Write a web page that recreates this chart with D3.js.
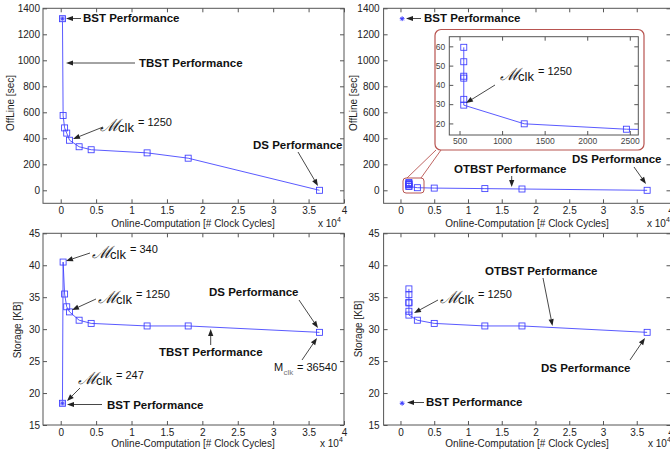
<!DOCTYPE html>
<html><head><meta charset="utf-8">
<script src="https://cdn.jsdelivr.net/npm/d3@7"></script>
<style>
body{margin:0;background:#fff}
svg{display:block}
text{font-family:"Liberation Sans",Arial,Helvetica,sans-serif}
</style>
</head><body>
<svg id="c" width="670" height="454"></svg>
<script>
// ---------- data ----------
const xTicks = [0, 5000, 10000, 15000, 20000, 25000, 30000, 35000, 40000];
const xTickLabels = ["0", "0.5", "1", "1.5", "2", "2.5", "3", "3.5", "4"];
const offlineTicks = [0, 200, 400, 600, 800, 1000, 1200, 1400];
const storageTicks = [15, 20, 25, 30, 35, 40, 45];
const insetXTicks = [500, 1000, 1500, 2000, 2500];
const insetYTicks = [20, 30, 40, 50, 60];

const bstOnline = [247];
const bstOffline = [1320];
const bstStorage = [18.4];

const tbstOnline  = [247, 340, 550, 850, 1250, 2600, 4300, 12200, 18000, 36540];
const tbstOffline = [1320, 575, 480, 440, 385, 335, 312, 288, 247, 0];
const tbstStorage = [18.4, 40.5, 35.5, 33.5, 32.7, 31.4, 30.9, 30.5, 30.5, 29.5];

const otbstOnline  = [1250, 1250, 1250, 1250, 1250, 1250, 2500, 5000, 12500, 18000, 36540];
const otbstOffline = [59.5, 52, 44.5, 43.5, 32.5, 29.5, 20, 17, 13, 10, 0];
const otbstStorage = [36.3, 35.4, 34.2, 34.1, 32.8, 32.2, 31.4, 30.9, 30.5, 30.5, 29.5];

const insetOnline  = [550, 550, 550, 550, 550, 550, 1260, 2460, 5000];
const insetOffline = [59.5, 52, 44.5, 43.5, 32.5, 29.5, 19.8, 17, 15];

// ---------- drawing ----------
const svg = d3.select("#c");
const BLUE = "#3c3cff";
const AX = "#555";
const TXT = "#222";
let clipId = 0;

function zipPts(xs, ys) { return xs.map((v, i) => [v, ys[i]]); }

function drawAxes(g, x, y, xt, xl, yt, opt) {
  const [x0, x1] = x.range(), [y0, y1] = y.range();
  const fs = opt.fs || 10;
  const b = g.append("g").attr("transform", `translate(0,${y0})`)
    .call(d3.axisBottom(x).tickValues(xt).tickFormat((d, i) => xl ? xl[i] : String(d)).tickSizeInner(-4).tickSizeOuter(0).tickPadding(opt.xpad || 4));
  const t = g.append("g").attr("transform", `translate(0,${y1})`)
    .call(d3.axisTop(x).tickValues(xt).tickFormat("").tickSizeInner(-4).tickSizeOuter(0));
  const l = g.append("g").attr("transform", `translate(${x0},0)`)
    .call(d3.axisLeft(y).tickValues(yt).tickFormat(d => String(d)).tickSizeInner(-4).tickSizeOuter(0).tickPadding(opt.ypad || 3));
  const r = g.append("g").attr("transform", `translate(${x1},0)`)
    .call(d3.axisRight(y).tickValues(yt).tickFormat("").tickSizeInner(-4).tickSizeOuter(0));
  [b, t, l, r].forEach(a => {
    a.select(".domain").remove();
    a.selectAll("line").attr("stroke", AX);
    a.selectAll("text").attr("fill", opt.tc || TXT).style("font-size", fs + "px")
      .style("font-family", '"Liberation Sans",Arial,sans-serif');
  });
  g.append("rect").attr("x", x0).attr("y", y1).attr("width", x1 - x0).attr("height", y0 - y1)
    .attr("fill", "none").attr("stroke", AX).attr("stroke-width", 1);
}

function clipFor(g, x, y) {
  const id = "clip" + (clipId++);
  const [x0, x1] = x.range(), [y0, y1] = y.range();
  svg.append("defs").append("clipPath").attr("id", id)
    .append("rect").attr("x", x0).attr("y", y1).attr("width", x1 - x0).attr("height", y0 - y1);
  return g.append("g").attr("clip-path", `url(#${id})`);
}

function series(g, x, y, xs, ys, opts) {
  const pts = zipPts(xs, ys);
  g.append("path").datum(pts)
    .attr("d", d3.line().x(d => x(d[0])).y(d => y(d[1])))
    .attr("fill", "none").attr("stroke", BLUE).attr("stroke-width", 0.85);
  const s = opts.size || 6;
  g.selectAll(null).data(pts.slice(opts.skip || 0)).enter().append("rect")
    .attr("x", d => x(d[0]) - s / 2).attr("y", d => y(d[1]) - s / 2)
    .attr("width", s).attr("height", s)
    .attr("fill", "none").attr("stroke", BLUE).attr("stroke-width", 0.85);
}

function star(g, x, y, xs, ys, withSquare) {
  zipPts(xs, ys).forEach(d => {
    const cx = x(d[0]), cy = y(d[1]);
    if (withSquare) {
      g.append("rect").attr("x", cx - 3).attr("y", cy - 3).attr("width", 6).attr("height", 6)
        .attr("fill", "#c4c4ff").attr("stroke", BLUE).attr("stroke-width", 0.85);
    }
    const r = withSquare ? 2 : 2.4;
    const sg = g.append("g").attr("stroke", BLUE).attr("stroke-width", withSquare ? 0.8 : 1);
    sg.append("line").attr("x1", cx - r).attr("x2", cx + r).attr("y1", cy).attr("y2", cy);
    sg.append("line").attr("x1", cx).attr("x2", cx).attr("y1", cy - r).attr("y2", cy + r);
    sg.append("line").attr("x1", cx - r * .7).attr("x2", cx + r * .7).attr("y1", cy - r * .7).attr("y2", cy + r * .7);
    sg.append("line").attr("x1", cx - r * .7).attr("x2", cx + r * .7).attr("y1", cy + r * .7).attr("y2", cy - r * .7);
  });
}

function arrow(x1, y1, x2, y2) {
  const g = svg.append("g");
  const ang = Math.atan2(y2 - y1, x2 - x1);
  const L = 7, W = 2.6;
  const bx = x2 - L * Math.cos(ang), by = y2 - L * Math.sin(ang);
  g.append("line").attr("x1", x1).attr("y1", y1).attr("x2", bx).attr("y2", by)
    .attr("stroke", "#333").attr("stroke-width", 0.9);
  const px = -Math.sin(ang) * W, py = Math.cos(ang) * W;
  g.append("path").attr("d", `M${x2},${y2}L${bx + px},${by + py}L${bx - px},${by - py}Z`)
    .attr("fill", "#222");
}

function label(txt, x, y, opt = {}) {
  svg.append("text").attr("x", x).attr("y", y).text(txt)
    .style("font-size", (opt.fs || 11.5) + "px")
    .style("font-weight", opt.bold === false ? "normal" : "bold")
    .attr("fill", opt.color || "#111")
    .attr("text-anchor", opt.anchor || "start");
}

// single text element: calligraphic M, subscript "clk", then "= value"
function mclk(x, y, value) {
  const t = svg.append("text").attr("x", x).attr("y", y).attr("fill", "#111");
  t.append("tspan").text("\u2133")
    .style("font-family", '"DejaVu Serif",serif').style("font-style", "italic")
    .style("font-size", "17px").attr("fill", "#222");
  t.append("tspan").attr("x", x + 18).attr("dy", 1).text("clk").style("font-size", "13px");
  t.append("tspan").attr("x", x + 38).attr("dy", -6).text("= " + value).style("font-size", "11px");
}

function axisTitles(xc, yb, ylx, yly, ytxt, x10x, x10y) {
  svg.append("text").attr("x", xc).attr("y", yb).attr("text-anchor", "middle")
    .text("Online-Computation [# Clock Cycles]").style("font-size", "10px").attr("fill", TXT);
  svg.append("text").attr("transform", `translate(${ylx},${yly}) rotate(-90)`).attr("text-anchor", "middle")
    .text(ytxt).style("font-size", "10px").attr("fill", TXT);
  const t = svg.append("text").attr("x", x10x).attr("y", x10y).style("font-size", "10px").attr("fill", TXT);
  t.append("tspan").text("x 10");
  t.append("tspan").attr("dy", -5).style("font-size", "7px").text("4");
}

// ---- scales ----
const xL = d3.scaleLinear().domain([-2500, 40000]).range([43, 344]);
const xR = d3.scaleLinear().domain([-2500, 40000]).range([383.6, 670.5]);
const yOffL = d3.scaleLinear().domain([-100, 1400]).range([203.3, 8.3]);
const yOffR = d3.scaleLinear().domain([-100, 1400]).range([203.3, 8.3]);
const yStL = d3.scaleLinear().domain([15, 45]).range([425, 233.3]);
const yStR = d3.scaleLinear().domain([15, 45]).range([425, 233.3]);

// ===== Top-left =====
{
  const g = svg.append("g");
  drawAxes(g, xL, yOffL, xTicks, xTickLabels, offlineTicks, {});
  const c = clipFor(g, xL, yOffL);
  series(c, xL, yOffL, tbstOnline, tbstOffline, { skip: 1 });
  star(c, xL, yOffL, bstOnline, bstOffline, true);
  axisTitles(193, 227, 14, 103, "OffLine [sec]", 318, 227);
  label("BST Performance", 83, 22);
  arrow(81, 18.5, 66, 18.5);
  label("TBST Performance", 139, 67);
  arrow(135, 63, 66, 63);
  mclk(100, 131, "1250");
  arrow(103, 127, 73, 139);
  label("DS Performance", 253, 149);
  arrow(298, 152, 318, 186);
}

// ===== Top-right =====
{
  const g = svg.append("g");
  drawAxes(g, xR, yOffR, xTicks, xTickLabels, offlineTicks, { ypad: 4 });
  const c = clipFor(g, xR, yOffR);
  series(c, xR, yOffR, otbstOnline, otbstOffline, {});
  star(c, xR, yOffR, bstOnline, bstOffline, false);
  axisTitles(527, 227, 357, 103, "OffLine [sec]", 647, 227);
  label("BST Performance", 424, 22);
  arrow(421, 18.5, 406, 18.5);
  label("OTBST Performance", 454, 173);
  arrow(511.7, 176, 511.7, 187);
  label("DS Performance", 572, 163);
  arrow(634, 167, 646, 184);

  // zoom box + connectors
  const RED = "#b85450";
  svg.append("rect").attr("x", 403).attr("y", 178).attr("width", 21).attr("height", 15).attr("rx", 3)
    .attr("fill", "none").attr("stroke", RED).attr("stroke-width", 1);
  svg.append("line").attr("x1", 407).attr("y1", 178).attr("x2", 436).attr("y2", 150).attr("stroke", RED).attr("stroke-width", 0.9);
  svg.append("line").attr("x1", 421).attr("y1", 178).attr("x2", 441).attr("y2", 150).attr("stroke", RED).attr("stroke-width", 0.9);
  svg.append("rect").attr("x", 435).attr("y", 29.5).attr("width", 209).attr("height", 120.5).attr("rx", 6)
    .attr("fill", "#fff").attr("stroke", RED).attr("stroke-width", 1.2);

  // inset axes
  const xi = d3.scaleLinear().domain([380, 2600]).range([449.3, 638.3]);
  const yi = d3.scaleLinear().domain([14, 65]).range([135, 36.7]);
  const gi = svg.append("g");
  drawAxes(gi, xi, yi, insetXTicks, null, insetYTicks, { fs: 8.5, xpad: 3, ypad: 4, tc: "#444" });
  const ci = clipFor(gi, xi, yi);
  series(ci, xi, yi, insetOnline, insetOffline, {});
  mclk(500, 80, "1250");
  arrow(495, 85, 466, 103);
}

// ===== Bottom-left =====
{
  const g = svg.append("g");
  drawAxes(g, xL, yStL, xTicks, xTickLabels, storageTicks, {});
  const c = clipFor(g, xL, yStL);
  series(c, xL, yStL, tbstOnline, tbstStorage, { skip: 1 });
  star(c, xL, yStL, bstOnline, bstStorage, true);
  axisTitles(193, 447, 21, 330, "Storage [KB]", 320, 447);
  mclk(92, 258, "340");
  arrow(90, 253, 66, 261);
  mclk(98, 303, "1250");
  arrow(96, 299, 72, 310);
  mclk(78, 384, "247");
  arrow(80, 388, 67, 401);
  label("BST Performance", 107, 409);
  arrow(102, 404.5, 67, 404.5);
  label("TBST Performance", 159, 356);
  arrow(210.7, 345, 210.7, 329);
  label("DS Performance", 209, 296);
  arrow(299, 300, 318, 328);
  const t = svg.append("text").attr("x", 274).attr("y", 371).style("font-size", "11px").attr("fill", "#111");
  t.append("tspan").text("M");
  t.append("tspan").attr("x", 283.5).attr("dy", 4).style("font-size", "8px").attr("fill", "#777").text("clk");
  t.append("tspan").attr("x", 297).attr("dy", -4).text("= 36540");
  arrow(302, 360, 317, 338);
}

// ===== Bottom-right =====
{
  const g = svg.append("g");
  drawAxes(g, xR, yStR, xTicks, xTickLabels, storageTicks, { ypad: 4 });
  const c = clipFor(g, xR, yStR);
  series(c, xR, yStR, otbstOnline, otbstStorage, {});
  star(c, xR, yStR, bstOnline, bstStorage, false);
  axisTitles(527, 447, 362, 329, "Storage [KB]", 648, 447);
  label("OTBST Performance", 485, 275);
  arrow(543, 278, 552.5, 326);
  mclk(440, 303, "1250");
  arrow(438, 300, 414, 313);
  label("DS Performance", 541, 372);
  arrow(630, 360, 645, 338);
  label("BST Performance", 426, 406);
  arrow(424, 402.5, 407, 402.5);
}
</script>
</body></html>
